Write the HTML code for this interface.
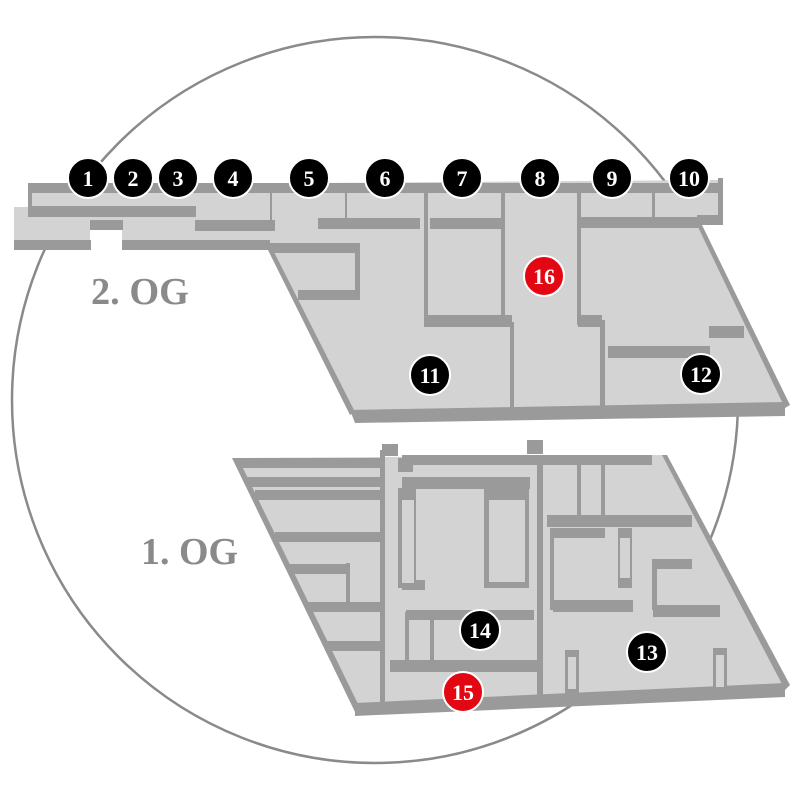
<!DOCTYPE html>
<html><head><style>html,body{margin:0;padding:0;background:#fff}svg{display:block}</style></head><body>
<svg width="800" height="800" viewBox="0 0 800 800" xmlns="http://www.w3.org/2000/svg">
<circle cx="375" cy="400" r="363" fill="none" stroke="#8a8a8a" stroke-width="2.5"/>
<!-- 2. OG floor -->
<g fill="#d3d3d3">
<polygon points="14,207 14,250 90,250 90,222 122,222 122,250 268,250 350,412 785,405 697,225 722,222 722,180 28,185 28,207"/>
</g>
<g fill="#9a9a9a">
<rect x="14" y="240" width="77" height="10"/>
<rect x="90" y="220" width="33" height="10"/>
<rect x="122" y="240" width="148" height="10"/>
<rect x="28" y="206" width="168" height="11"/>
<rect x="195" y="220" width="80" height="11"/>
<rect x="318" y="218" width="102" height="11"/>
<rect x="270" y="243" width="90" height="10"/>
<rect x="298" y="290" width="62" height="10"/>
<rect x="355" y="250" width="5" height="48"/>
<rect x="28" y="183" width="694" height="10"/>
<rect x="28" y="185" width="4" height="24"/>
<rect x="430" y="218" width="72" height="11"/>
<rect x="578" y="217" width="120" height="11"/>
<rect x="697" y="215" width="26" height="10"/>
<rect x="718" y="178" width="5" height="40"/>
<rect x="424" y="315" width="88" height="12"/>
<rect x="578" y="315" width="24" height="12"/>
<rect x="608" y="346" width="102" height="12"/>
<rect x="709" y="326" width="35" height="12"/>
<rect x="424" y="185" width="4" height="140"/>
<rect x="501" y="185" width="4" height="140"/>
<rect x="510" y="322" width="4" height="90"/>
<rect x="577" y="185" width="4" height="140"/>
<rect x="600" y="320" width="5" height="90"/>
<rect x="652" y="185" width="3" height="32"/>
<rect x="270" y="190" width="2" height="30"/>
<rect x="345" y="190" width="2" height="30"/>
<polygon points="350,410 785,402 785,416 355,423"/>
<polygon points="697,225 702,225 790,405 785,408"/>
<polygon points="268,250 273,250 355,412 350,415"/>
</g>
<!-- 1. OG floor -->
<g fill="#d3d3d3">
<polygon points="235,458 665,455 785,690 355,710"/>
</g>
<g fill="#9a9a9a">
<rect x="238" y="458" width="143" height="10"/>
<rect x="247" y="477" width="135" height="10"/>
<rect x="255" y="490" width="127" height="10"/>
<rect x="275" y="532" width="108" height="10"/>
<rect x="290" y="564" width="58" height="10"/>
<rect x="308" y="602" width="77" height="10"/>
<rect x="325" y="641" width="60" height="10"/>
<rect x="346" y="563" width="4" height="45"/>
<rect x="380" y="450" width="5" height="258"/>
<rect x="382" y="444" width="16" height="12"/>
<rect x="398" y="458" width="15" height="14"/>
<rect x="402" y="455" width="250" height="10"/>
<rect x="402" y="477" width="128" height="12"/>
<rect x="398" y="488" width="18" height="100"/>
<rect x="402" y="580" width="23" height="10"/>
<rect x="484" y="488" width="45" height="100"/>
<rect x="487" y="490" width="40" height="10"/>
<rect x="527" y="440" width="16" height="14"/>
<rect x="537" y="455" width="6" height="248"/>
<rect x="577" y="455" width="4" height="60"/>
<rect x="601" y="455" width="4" height="60"/>
<rect x="547" y="515" width="145" height="12"/>
<rect x="550" y="528" width="55" height="10"/>
<rect x="550" y="530" width="4" height="80"/>
<rect x="553" y="600" width="80" height="12"/>
<rect x="618" y="528" width="14" height="60"/>
<rect x="652" y="559" width="40" height="10"/>
<rect x="652" y="560" width="5" height="50"/>
<rect x="653" y="605" width="67" height="12"/>
<rect x="406" y="610" width="128" height="10"/>
<rect x="390" y="660" width="150" height="12"/>
<rect x="405" y="612" width="4" height="50"/>
<rect x="430" y="612" width="4" height="50"/>
<rect x="538" y="620" width="4" height="85"/>
<rect x="565" y="650" width="14" height="45"/>
<rect x="713" y="648" width="14" height="45"/>
<polygon points="355,703 785,683 785,697 355,716"/>
<polygon points="232,458 238,458 360,708 355,712"/>
<polygon points="662,455 667,455 790,685 785,690"/>
</g>
<g fill="#d3d3d3">
<rect x="402" y="500" width="12" height="83"/>
<rect x="489" y="500" width="36" height="82"/>
<rect x="555" y="538" width="48" height="62"/>
<rect x="620" y="538" width="10" height="40"/>
<rect x="657" y="569" width="50" height="36"/>
<rect x="568" y="657" width="8" height="32"/>
<rect x="716" y="655" width="8" height="32"/>
</g>
<g font-family="'Liberation Serif',serif" font-weight="bold" fill="#8a8a8a" font-size="38">
<text x="91" y="304" textLength="98" lengthAdjust="spacingAndGlyphs">2. OG</text>
<text x="141" y="564" textLength="97" lengthAdjust="spacingAndGlyphs">1. OG</text>
</g>
<g stroke="#fff" stroke-width="2" font-family="'Liberation Serif',serif" font-weight="bold" font-size="21">
<g fill="#000">
<circle cx="88" cy="178" r="20"/><circle cx="133" cy="178" r="20"/><circle cx="178" cy="178" r="20"/>
<circle cx="233" cy="178" r="20"/><circle cx="309" cy="178" r="20"/><circle cx="385" cy="178" r="20"/>
<circle cx="462" cy="178" r="20"/><circle cx="540" cy="178" r="20"/><circle cx="612" cy="178" r="20"/>
<circle cx="689" cy="178" r="20"/><circle cx="430" cy="375" r="20"/><circle cx="701" cy="374" r="20"/>
<circle cx="647" cy="652" r="20"/><circle cx="480" cy="630" r="20"/>
</g>
<g fill="#e30613">
<circle cx="544" cy="276" r="20"/><circle cx="463" cy="692" r="20"/>
</g>
</g>
<g fill="#fff" font-family="'Liberation Serif',serif" font-weight="bold" font-size="22" text-anchor="middle">
<text x="88" y="186">1</text><text x="133" y="186">2</text><text x="178" y="186">3</text>
<text x="233" y="186">4</text><text x="309" y="186">5</text><text x="385" y="186">6</text>
<text x="462" y="186">7</text><text x="540" y="186">8</text><text x="612" y="186">9</text>
<text x="689" y="186">10</text><text x="430" y="383">11</text><text x="701" y="382">12</text>
<text x="647" y="660">13</text><text x="480" y="638">14</text>
<text x="544" y="284">16</text><text x="463" y="700">15</text>
</g>
</svg>
</body></html>
